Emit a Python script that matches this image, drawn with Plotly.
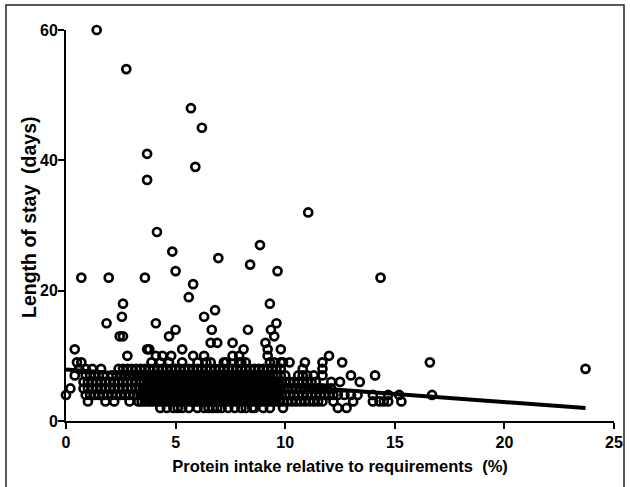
import plotly.graph_objects as go

# ---- data: protein intake (% of requirements) grouped by length of stay (days) ----
los2 = [4.3, 4.6, 4.9, 5.1, 5.3, 5.6, 6.0, 6.3, 6.5, 6.7, 6.9, 7.1, 7.4, 7.7, 8.0, 8.2, 8.5,
        8.6, 9.0, 9.3, 9.9, 12.4, 12.8]
los3 = [1.0, 1.8, 2.2, 2.9, 3.3, 3.45, 3.6, 3.75, 3.9, 4.05, 4.2, 4.35, 4.5, 4.65, 4.8, 4.95,
        5.1, 5.25, 5.4, 5.55, 5.7, 5.85, 6.0, 6.15, 6.3, 6.45, 6.6, 6.75, 6.9, 7.05, 7.2, 7.35,
        7.5, 7.65, 7.8, 7.95, 8.1, 8.25, 8.4, 8.55, 8.7, 8.85, 9.0, 9.15, 9.3, 9.45, 9.6, 9.75,
        9.9, 10.1, 10.3, 10.5, 10.7, 10.9, 11.1, 11.3, 11.5, 11.7, 12.2, 13.1, 14.0, 14.3, 14.5,
        14.7, 15.3]
los4 = [0.0, 0.9, 1.1, 1.3, 1.5, 1.7, 1.9, 2.1, 2.3, 2.5, 2.7, 2.9, 3.1, 3.25, 3.4, 3.55, 3.7,
        3.85, 4.0, 4.15, 4.3, 4.45, 4.6, 4.75, 4.9, 5.05, 5.2, 5.35, 5.5, 5.65, 5.8, 5.95, 6.1,
        6.25, 6.4, 6.55, 6.7, 6.85, 7.0, 7.15, 7.3, 7.45, 7.6, 7.75, 7.9, 8.05, 8.2, 8.35, 8.5,
        8.65, 8.8, 8.95, 9.1, 9.25, 9.4, 9.55, 9.7, 9.85, 10.0, 10.2, 10.4, 10.6, 10.8, 11.0,
        11.2, 11.4, 11.6, 11.8, 12.0, 12.2, 12.4, 12.7, 13.0, 13.3, 14.0, 14.7, 15.2, 16.7]
los5 = [0.2, 0.8, 1.0, 1.2, 1.4, 1.6, 1.8, 2.0, 2.2, 2.4, 2.6, 2.8, 3.0, 3.2, 3.35, 3.5, 3.65,
        3.8, 3.95, 4.1, 4.25, 4.4, 4.55, 4.7, 4.85, 5.0, 5.15, 5.3, 5.45, 5.6, 5.75, 5.9, 6.05,
        6.2, 6.35, 6.5, 6.65, 6.8, 6.95, 7.1, 7.25, 7.4, 7.55, 7.7, 7.85, 8.0, 8.15, 8.3, 8.45,
        8.6, 8.75, 8.9, 9.05, 9.2, 9.35, 9.5, 9.65, 9.8, 9.95, 10.1, 10.3, 10.5, 10.7, 10.9,
        11.1, 11.3, 11.5, 11.7, 11.9, 12.1]
los6 = [0.8, 1.0, 1.2, 1.4, 1.6, 1.8, 2.0, 2.2, 2.4, 2.6, 2.8, 3.0, 3.2, 3.4, 3.55, 3.7, 3.85,
        4.0, 4.15, 4.3, 4.45, 4.6, 4.75, 4.9, 5.05, 5.2, 5.35, 5.5, 5.65, 5.8, 5.95, 6.1, 6.25,
        6.4, 6.55, 6.7, 6.85, 7.0, 7.15, 7.3, 7.45, 7.6, 7.75, 7.9, 8.05, 8.2, 8.35, 8.5, 8.65,
        8.8, 8.95, 9.1, 9.25, 9.4, 9.55, 9.7, 9.85, 10.0, 10.2, 10.4, 10.6, 10.8, 11.0, 11.2,
        11.4, 12.1, 12.5, 13.4]
los7 = [0.4, 0.9, 1.1, 1.3, 1.5, 1.7, 2.1, 2.3, 2.5, 2.7, 2.9, 3.1, 3.3, 3.5, 3.7, 3.9, 4.05,
        4.2, 4.35, 4.5, 4.65, 4.8, 4.95, 5.1, 5.25, 5.4, 5.55, 5.7, 5.85, 6.0, 6.15, 6.3, 6.45,
        6.6, 6.75, 6.9, 7.05, 7.2, 7.35, 7.5, 7.65, 7.8, 7.95, 8.1, 8.25, 8.4, 8.55, 8.7, 8.85,
        9.0, 9.15, 9.3, 9.45, 9.6, 9.8, 10.0, 10.6, 10.8, 11.0, 11.3, 11.7, 13.0, 14.1]
los8 = [0.6, 0.9, 1.2, 1.6, 2.4, 2.6, 2.8, 3.0, 3.2, 3.4, 3.6, 3.8, 4.0, 4.2, 4.4, 4.6, 4.8,
        5.0, 5.2, 5.4, 5.6, 5.8, 6.0, 6.2, 6.4, 6.6, 6.8, 7.0, 7.2, 7.4, 7.6, 7.8, 8.0, 8.2,
        8.4, 8.6, 8.8, 9.0, 9.2, 9.4, 9.6, 9.8, 10.8, 11.7, 23.7]
los9 = [0.5, 0.7, 3.9, 4.3, 4.7, 5.3, 6.0, 6.4, 6.6, 7.2, 7.3, 7.9, 8.0, 8.2, 9.3, 9.5, 9.8,
        9.9, 10.2, 10.9, 11.7, 12.6, 16.6]
los10 = [2.8, 4.1, 4.4, 4.8, 5.8, 6.3, 7.6, 7.9, 9.2, 12.0]

# sparse long stays: (protein %, days)
long_x = [0.4, 3.7, 3.8, 5.3, 8.1, 9.2, 9.8,
          6.6, 6.9, 7.6, 9.1,
          2.45, 2.6, 4.7, 9.5,
          5.0, 6.65, 8.3, 9.35,
          1.85, 4.1, 9.6,
          2.55, 6.3,
          6.8, 2.6, 9.3, 5.6, 5.8,
          0.7, 1.95, 3.6, 14.35,
          5.0, 9.65, 8.4, 6.95, 4.85, 8.85, 4.15, 11.05,
          3.7, 5.9, 3.7, 6.2, 5.7, 2.75, 1.4]
long_y = [11, 11, 11, 11, 11, 11, 11,
          12, 12, 12, 12,
          13, 13, 13, 13,
          14, 14, 14, 14,
          15, 15, 15,
          16, 16,
          17, 18, 18, 19, 21,
          22, 22, 22, 22,
          23, 23, 24, 25, 26, 27, 29, 32,
          37, 39, 41, 45, 48, 54, 60]

# regression line (fit)
fit_x = [0.0, 23.7]
fit_y = [7.9, 2.0]

x_ticks = [0, 5, 10, 15, 20, 25]
y_ticks = [0, 20, 40, 60]

# ---- assemble ----
xs, ys = [], []
for day, lst in [(2, los2), (3, los3), (4, los4), (5, los5), (6, los6),
                 (7, los7), (8, los8), (9, los9), (10, los10)]:
    xs += lst
    ys += [day] * len(lst)
xs += long_x
ys += long_y

fig = go.Figure()
fig.add_trace(go.Scatter(
    x=xs, y=ys, mode="markers", cliponaxis=False,
    marker=dict(symbol="circle-open", size=8, color="black", line=dict(width=2.7, color="black")),
    showlegend=False, hoverinfo="skip"))
fig.add_trace(go.Scatter(
    x=fit_x, y=fit_y, mode="lines", cliponaxis=False,
    line=dict(color="black", width=4), showlegend=False, hoverinfo="skip"))

font_bold = "Liberation Sans, Arial, sans-serif"
fig.update_layout(
    width=630, height=487,
    margin=dict(l=66, r=16, t=30, b=66),
    paper_bgcolor="white", plot_bgcolor="white",
    font=dict(family=font_bold, color="black"),
    xaxis=dict(range=[0, 25], tickvals=x_ticks, ticktext=[f"<b>{v}</b>" for v in x_ticks],
               showgrid=False, zeroline=False, showline=True, linecolor="black", linewidth=2,
               ticks="outside", ticklen=6, tickwidth=2, tickcolor="black", automargin=False,
               tickfont=dict(size=16, family=font_bold),
               title=dict(text="<b>Protein intake relative to requirements  (%)</b>",
                          font=dict(size=16.5, family=font_bold), standoff=10)),
    yaxis=dict(range=[0, 60], tickvals=y_ticks, ticktext=[f"<b>{v}</b>" for v in y_ticks],
               showgrid=False, zeroline=False, showline=True, linecolor="black", linewidth=2,
               ticks="outside", ticklen=6, tickwidth=2, tickcolor="black", automargin=False,
               ticklabelstandoff=-3,
               tickfont=dict(size=16, family=font_bold)),
)

# y-axis title placed as an annotation so it sits close to the tick labels
fig.add_annotation(text="<b>Length of stay  (days)</b>", textangle=-90, showarrow=False,
                   xref="paper", yref="paper", x=(29 - 66) / 548, y=(421 - 217) / 391,
                   xanchor="center", yanchor="middle",
                   font=dict(size=19.5, family=font_bold, color="black"))

# outer frame of the figure image
fig.add_shape(type="rect", xref="paper", yref="paper",
              x0=(6 - 66) / 548, x1=(624 - 66) / 548,
              y0=(421 - 500) / 391, y1=(421 - 5) / 391,
              line=dict(color="#222", width=1.5), layer="below")

fig.write_html("out.html", config={"displayModeBar": False, "staticPlot": True},
               post_script="document.body.style.margin='0';document.body.style.overflow='hidden';")
